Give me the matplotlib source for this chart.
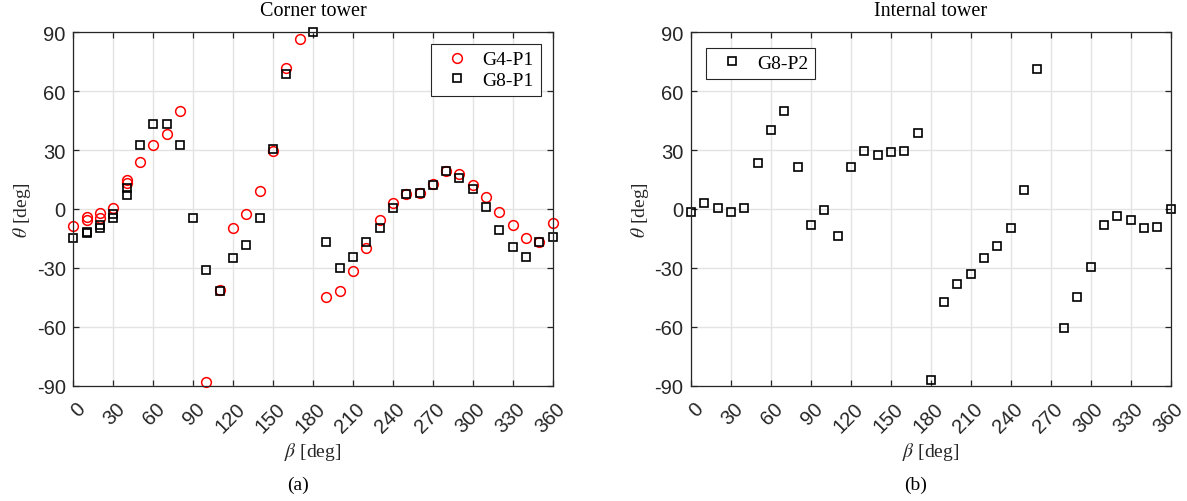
import numpy as np
import matplotlib
matplotlib.use("Agg")
import matplotlib.pyplot as plt
from matplotlib.transforms import ScaledTranslation

# --- Measured flutter angles (theta) against wind direction (beta) ---
beta_g4p1 = [0, 10, 10, 20, 20, 30, 40, 40, 50, 60, 70, 80,
             100, 110, 120, 130, 140, 150, 160, 170,
             190, 200, 210, 220, 230, 240, 250, 260, 270, 280,
             290, 300, 310, 320, 330, 340, 350, 360]
theta_g4p1 = [-8.5, -4.2, -5.6, -2.0, -4.5, 0.3, 14.7, 13.2, 24.0, 32.5, 38.0, 50.0,
              -88.0, -41.5, -9.6, -2.5, 9.1, 29.7, 71.7, 86.6,
              -44.6, -41.6, -31.7, -19.9, -5.7, 3.2, 7.5, 8.4, 12.7, 19.2,
              17.8, 12.1, 6.1, -1.3, -8.1, -14.8, -16.7, -7.2]

beta_g8p1 = [0, 10, 10, 20, 20, 30, 30, 40, 40, 50, 60, 70, 80, 90,
             100, 110, 120, 130, 140, 150, 160, 180,
             190, 200, 210, 220, 230, 240, 250, 260, 270, 280,
             290, 300, 310, 320, 330, 340, 350, 360]
theta_g8p1 = [-15.0, -11.6, -12.3, -8.0, -9.7, -2.5, -4.5, 10.5, 7.1, 32.5, 43.2, 43.2, 32.5, -4.7,
              -31.0, -42.0, -25.0, -18.2, -4.4, 30.5, 68.6, 90.0,
              -16.7, -30.2, -24.5, -16.7, -9.9, 0.5, 7.5, 8.1, 12.4, 19.2,
              15.6, 10.2, 0.9, -10.6, -19.6, -24.4, -17.0, -14.1]

beta_g8p2 = [0, 10, 20, 30, 40, 50, 60, 70, 80, 90, 100, 110, 120, 130, 140, 150, 160, 170,
             180, 190, 200, 210, 220, 230, 240, 250, 260, 280, 290, 300, 310, 320, 330, 340,
             350, 360]
theta_g8p2 = [-1.4, 3.1, 0.5, -1.7, 0.7, 23.4, 40.2, 49.7, 21.2, -8.1, -0.7, -13.9, 21.4, 29.4,
              27.3, 28.9, 29.6, 38.9,
              -87.1, -47.2, -38.4, -33.3, -25.0, -18.7, -9.8, 9.5, 71.1, -60.4, -45.0, -29.5,
              -8.3, -3.4, -5.8, -9.5, -9.0, 0.0]

xticks = np.arange(0, 361, 30)
yticks = np.arange(-90, 91, 30)

# tick numbers in sans, everything else in serif
plt.rcParams["font.family"] = ["Liberation Sans", "DejaVu Sans"]
plt.rcParams["font.size"] = 14.5
plt.rcParams["axes.unicode_minus"] = False
plt.rcParams["mathtext.fontset"] = "stix"
SERIF = ["Liberation Serif", "DejaVu Serif"]

DARK = "#262626"
GRID = "#e3e3e3"
W, H = 1187, 502

fig = plt.figure(figsize=(W / 100, H / 100), dpi=100)
ax1 = fig.add_axes([73.3 / W, 1 - 386.7 / H, 479.4 / W, 353.4 / H])
ax2 = fig.add_axes([691.0 / W, 1 - 386.7 / H, 479.7 / W, 353.4 / H])


def style_axes(ax, title):
    ax.set_xlim(0, 360)
    ax.set_ylim(-90, 90)
    ax.set_xticks(xticks)
    ax.set_yticks(yticks)
    ax.grid(True, color=GRID, linewidth=1.0)
    ax.set_axisbelow(True)
    for sp in ax.spines.values():
        sp.set_color(DARK)
        sp.set_linewidth(0.9)
    ax.tick_params(direction="in", length=4, width=0.9, color=DARK,
                   top=True, right=True, labelcolor=DARK, labelsize=14.5)
    ax.tick_params(axis="x", pad=14)
    ax.tick_params(axis="y", pad=5.5)
    shift = ScaledTranslation(9 / 100, 0, fig.dpi_scale_trans)
    for lab in ax.get_xticklabels():
        lab.set_fontsize(14.5)
        lab.set_rotation(45)
        lab.set_ha("right")
        lab.set_va("center")
        lab.set_rotation_mode("anchor")
        lab.set_transform(lab.get_transform() + shift)
    for lab in ax.get_yticklabels():
        lab.set_fontsize(14.5)
    ax.text(0.5, 1.062, title, transform=ax.transAxes, ha="center", va="center",
            fontsize=14.5, color="black", family=SERIF)
    ax.set_xlabel(r"$\beta$ [deg]", fontsize=14, color=DARK, family=SERIF)
    ax.xaxis.set_label_coords(0.5, -0.184)
    ax.xaxis.label.set_va("center")
    ax.set_ylabel(r"$\theta$ [deg]", fontsize=14, color=DARK, family=SERIF)
    ax.yaxis.set_label_coords(-0.107, 0.5)
    ax.yaxis.label.set_va("center")


style_axes(ax1, "Corner tower")
style_axes(ax2, "Internal tower")

ax1.plot(beta_g4p1, theta_g4p1, "o", ms=7, mfc="none", mec="red", mew=1.1,
         clip_on=False, label="G4-P1")
ax1.plot(beta_g8p1, theta_g8p1, "s", ms=5.3, mfc="none", mec="black", mew=1.2,
         clip_on=False, label="G8-P1")
ax2.plot(beta_g8p2, theta_g8p2, "s", ms=5.3, mfc="none", mec="black", mew=1.2,
         clip_on=False, label="G8-P2")

leg_kw = dict(prop={"family": SERIF, "size": 14}, numpoints=1, fancybox=False,
              framealpha=1, edgecolor=DARK, borderaxespad=0, handletextpad=0.3,
              borderpad=0.35, labelspacing=0.15)
leg1 = ax1.legend(loc="upper right", bbox_to_anchor=(0.975, 0.967), **leg_kw)
leg2 = ax2.legend(loc="upper left", bbox_to_anchor=(0.031, 0.956), **leg_kw)
for leg in (leg1, leg2):
    leg.get_frame().set_linewidth(0.8)

fig.text(298.5 / W, 1 - 485 / H, "(a)", ha="center", va="center", fontsize=14, family=SERIF)
fig.text(916.0 / W, 1 - 485 / H, "(b)", ha="center", va="center", fontsize=14, family=SERIF)

fig.savefig("out.png", dpi=100)
